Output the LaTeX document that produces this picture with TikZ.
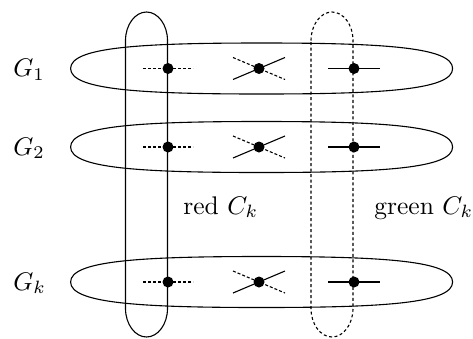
\documentclass[tikz,border=0pt]{standalone}
\begin{document}
\begin{tikzpicture}[x=1pt,y=-1pt,line width=1.1pt,
  lbl/.style={inner sep=0pt,anchor=base west,scale=2.55},
  vtx/.style={circle,fill=black,inner sep=0pt,minimum size=11pt},
  dotline/.style={dash pattern=on 3pt off 2pt},
  loopdash/.style={dash pattern=on 3pt off 2.5pt},
  hring/.pic={\draw (-191,0) .. controls (-191,-21) and (-124,-25.5) .. (0,-25.5)
      .. controls (124,-25.5) and (191,-21) .. (191,0)
      .. controls (191,21) and (124,25.5) .. (0,25.5)
      .. controls (-124,25.5) and (-191,21) .. (-191,0) -- cycle;},
]
\useasboundingbox (0,0) rectangle (473,338);
% horizontal rings
\foreach \y in {68.5,147,282} { \pic at (261.6,\y) {hring}; }
% red loop (solid)
\draw (125.5,40.5) .. controls (125.5,25) and (134.9,12) .. (146.5,12)
  .. controls (158.1,12) and (167.5,25) .. (167.5,40.5) -- (167.5,308.5)
  .. controls (167.5,324) and (158.1,337) .. (146.5,337)
  .. controls (134.9,337) and (125.5,324) .. (125.5,308.5) -- cycle;
% green loop (dashed)
\draw[loopdash] (311,40.5) .. controls (311,25) and (320.4,12) .. (332,12)
  .. controls (343.6,12) and (353,25) .. (353,40.5) -- (353,308.5)
  .. controls (353,324) and (343.6,337) .. (332,337)
  .. controls (320.4,337) and (311,324) .. (311,308.5) -- cycle;
% vertices and stubs
\foreach \y/\n in {68.5/1,147/2,282/3} {
  \coordinate (rl\n) at (143,\y); \coordinate (rr\n) at (193,\y);
  \coordinate (gl\n) at (328,\y); \coordinate (gr\n) at (380,\y);
  \coordinate (ma\n) at (233,\y+11); \coordinate (mb\n) at (285,\y-11);
  \coordinate (mc\n) at (233,\y-11); \coordinate (md\n) at (285,\y+11);
  \draw[dotline] (rl\n) -- (rr\n);
  \draw (gl\n) -- (gr\n);
  \draw (ma\n) -- (mb\n);
  \draw[dotline] (mc\n) -- (md\n);
  \node[vtx] (r\n) at (168,\y) {};
  \node[vtx] (m\n) at (259,\y) {};
  \node[vtx] (g\n) at (354,\y) {};
}
% labels
\node[lbl] (G1) at (12,76.5) {$G_1$};
\node[lbl] (G2) at (12,155) {$G_2$};
\node[lbl] (Gk) at (12,290) {$G_k$};
\node[lbl] (red) at (182,214) {red $C_k$};
\node[lbl] (green) at (373,214) {green $C_k$};
\end{tikzpicture}
\end{document}
